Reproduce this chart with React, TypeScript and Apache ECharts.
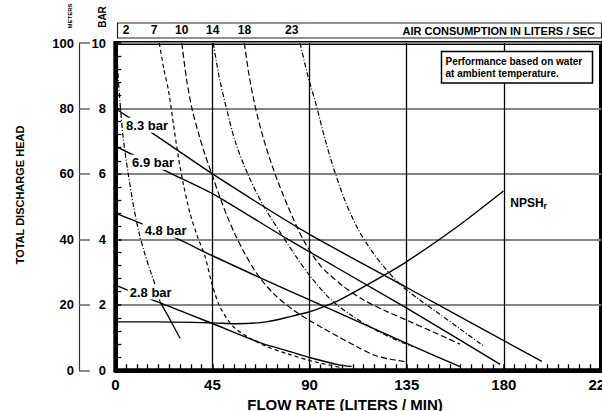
import React, { useEffect, useRef } from "react";
import * as echarts from "echarts";

const FONT = '"Liberation Sans", Arial, Helvetica, sans-serif';

// Axis ranges / ticks
const flowTicks = [0, 45, 90, 135, 180, 225];
const headTicks = [0, 20, 40, 60, 80, 100];

// Pressure (solid) curves: flow in L/min, head in meters
const p83Flow = [0, 16, 45, 90, 135, 197.6];
const p83Head = [80, 73, 60, 41.5, 25.3, 2.7];
const p69Flow = [0, 20.8, 45, 80, 135, 178.3];
const p69Head = [68.5, 61.7, 54, 40, 19, 1.8];
const p48Flow = [0, 25.5, 45, 68, 90, 104, 135, 159.7];
const p48Head = [48, 41.2, 35, 28, 21.5, 17.4, 8.2, 1.1];
const p28Flow = [0, 16, 45, 68, 81, 90, 104, 109.5];
const p28Head = [26, 21.8, 14.3, 8.2, 5.7, 3.9, 1.6, 1.2];
const pressureLabels = ["8.3 bar", "6.9 bar", "4.8 bar", "2.8 bar"];
const pressureLabelFlow = [14.7, 17.5, 23.3, 16.4];
const pressureLabelHead = [74.9, 63.6, 42.8, 23.9];

// NPSHr curve
const npshFlow = [0, 20, 45, 56, 70, 81, 90, 96.4, 104, 123.4, 135, 158.2, 179.8];
const npshHead = [14.8, 14.8, 14.5, 14.2, 14.8, 16.4, 17.9, 19.4, 21.5, 28.6, 33.2, 43.8, 54.8];

// Air consumption (dashed) curves, liters / sec
const c2Flow = [0.5, 1.5, 3.5, 6, 8.5, 11, 13.5, 16.1, 19, 20.7];
const c2Head = [100, 88, 72, 60, 50, 42, 36, 30.6, 25, 21];
const c2TailFlow = [20.7, 24.6, 30];
const c2TailHead = [21, 16.4, 9.8];
const c7Flow = [20.4, 22.5, 24.6, 26.9, 29.2, 31.5, 34.6, 38, 41.6, 44.7, 48.5, 54.7, 62.4, 70, 80, 90, 104];
const c7Head = [100, 92, 85.6, 75.4, 65.2, 57, 48, 41, 34.7, 26.6, 19.4, 13.3, 9.8, 7.3, 5.0, 3.0, 0.9];
const c10Flow = [30.8, 33, 35.5, 38.5, 41.5, 44.7, 48.5, 52, 55.5, 59.3, 65.5, 73.2, 82.5, 90, 96.4, 104, 112, 120, 128, 135];
const c10Head = [100, 89, 80, 72.5, 66, 60, 52.8, 46.8, 41.5, 36.5, 29.6, 23.5, 18.4, 15.2, 12.8, 10.0, 7.2, 4.6, 3.3, 2.6];
const c14Flow = [45.4, 48, 51.5, 55.5, 61, 68, 77, 84, 90, 100, 110, 120, 130, 138];
const c14Head = [100, 90, 80, 70, 60.5, 51, 41.5, 34.5, 29, 21.5, 16.5, 12.5, 9.3, 7.2];
const c18Flow = [59.8, 62, 65, 69, 74, 80, 87, 95, 105, 115, 125, 135, 147, 159.7];
const c18Head = [100, 90, 80, 70, 60, 50, 40, 32, 26, 21.5, 18.2, 15.3, 11.8, 8.0];
const c23Flow = [85.6, 89, 93.3, 97, 101, 106, 111.9, 118, 124.2, 132, 140, 150, 160, 170.3];
const c23Head = [100, 90.5, 80.5, 71, 62, 52.5, 43.8, 37.2, 31.8, 26.2, 22, 17.3, 12.5, 7.6];
const airLabels = ["2", "7", "10", "14", "18", "23"];
const airLabelFlow = [5, 18, 30.8, 45.1, 59.8, 81.7];

const zip = (xs: number[], ys: number[]) => xs.map((x, i) => [x, ys[i]]);

const DASH_A = [4, 3];
const DASH_B = [6, 3];
const DASH_DOT = [5, 2, 1, 2];

function curve(xs: number[], ys: number[], dash: any, width = 1.3, smooth: number = 0.3): any {
  return {
    type: "line",
    data: zip(xs, ys),
    showSymbol: false,
    symbol: "none",
    smooth,
    silent: true,
    lineStyle: { color: "#000", width, type: dash },
    z: 3,
  };
}

function textPoint(x: number, y: number, text: string, size: number, offset: number[] = [0, 0], bg = false): any {
  return {
    coord: [x, y],
    symbol: "circle",
    symbolSize: 1,
    itemStyle: { color: "rgba(0,0,0,0)" },
    label: {
      show: true,
      position: "inside",
      formatter: text,
      offset,
      color: "#000",
      fontSize: size,
      fontWeight: "bold",
      fontFamily: FONT,
      backgroundColor: bg ? "#fff" : "transparent",
      padding: bg ? [1, 2, 1, 2] : 0,
    },
  };
}

function markPoints(data: any[]): any {
  return { silent: true, animation: false, z: 20, data };
}

export default function App() {
  const ref = useRef<HTMLDivElement>(null);

  useEffect(() => {
    if (!ref.current) return;
    const chart = echarts.init(ref.current, undefined, { renderer: "svg" });

    const pressure = [
      [p83Flow, p83Head],
      [p69Flow, p69Head],
      [p48Flow, p48Head],
      [p28Flow, p28Head],
    ].map(([xs, ys], i) => {
      const s = curve(xs, ys, "solid", 1.4, 0.2);
      s.z = 4;
      s.markPoint = markPoints([
        textPoint(pressureLabelFlow[i], pressureLabelHead[i], pressureLabels[i], 13, [0, 0], true),
      ]);
      return s;
    });

    const airDefs: [number[], number[], any][] = [
      [c2Flow, c2Head, DASH_DOT],
      [c7Flow, c7Head, DASH_A],
      [c10Flow, c10Head, DASH_B],
      [c14Flow, c14Head, DASH_DOT],
      [c18Flow, c18Head, DASH_B],
      [c23Flow, c23Head, DASH_DOT],
    ];
    const air = airDefs.map(([xs, ys, dash], i) => {
      const s = curve(xs, ys, dash, 1.2, 0.3);
      s.markPoint = markPoints([textPoint(airLabelFlow[i], 100, airLabels[i], 12, [0, -13])]);
      return s;
    });
    const c2Tail = curve(c2TailFlow, c2TailHead, "solid", 1.3, 0.3);

    const npsh = curve(npshFlow, npshHead, "solid", 1.4, 0.3);
    npsh.markPoint = markPoints([
      {
        coord: [191.5, 51.2],
        symbol: "circle",
        symbolSize: 1,
        itemStyle: { color: "rgba(0,0,0,0)" },
        label: {
          show: true,
          position: "inside",
          formatter: "{a|NPSH}{b|r}",
          rich: {
            a: { fontSize: 12, fontWeight: "bold", fontFamily: FONT, color: "#000" },
            b: { fontSize: 9, fontWeight: "bold", fontFamily: FONT, color: "#000", padding: [7, 0, 0, 0] },
          },
        },
      },
    ]);

    const labelStyle = { color: "#000", fontWeight: "bold" as const, fontFamily: FONT };

    chart.setOption({
      animation: false,
      backgroundColor: "#fff",
      grid: {
        left: 115.3,
        right: 1,
        top: 43,
        bottom: 40.7,
        show: true,
        borderColor: "#000",
        borderWidth: 4,
        backgroundColor: "transparent",
        containLabel: false,
        outerBoundsMode: "none",
      },
      xAxis: [
        {
          type: "value",
          min: flowTicks[0],
          max: flowTicks[flowTicks.length - 1],
          interval: flowTicks[1] - flowTicks[0],
          position: "bottom",
          axisLine: { show: true, onZero: false, lineStyle: { color: "#000", width: 4 } },
          axisTick: { show: true, inside: true, length: 6, lineStyle: { color: "#000", width: 1.5 } },
          minorTick: { show: true, splitNumber: 9, length: 6, lineStyle: { color: "#000", width: 1.3 } },
          axisLabel: { ...labelStyle, fontSize: 15, margin: 7, showMinLabel: true, showMaxLabel: true, hideOverlap: false },
          splitLine: { show: true, lineStyle: { color: "#000", width: 1.3 } },
        },
      ],
      yAxis: [
        {
          type: "value",
          min: headTicks[0],
          max: headTicks[headTicks.length - 1],
          interval: headTicks[1] - headTicks[0],
          position: "left",
          axisLine: { show: true, onZero: false, lineStyle: { color: "#000", width: 4 } },
          axisTick: { show: true, inside: true, length: 6, lineStyle: { color: "#000", width: 1.5 } },
          minorTick: { show: true, splitNumber: 5, length: 6, lineStyle: { color: "#000", width: 1.3 } },
          axisLabel: { show: false },
          splitLine: { show: true, lineStyle: { color: "#858585", width: 2 } },
        },
        {
          type: "value",
          min: headTicks[0],
          max: headTicks[headTicks.length - 1],
          interval: headTicks[1] - headTicks[0],
          position: "left",
          offset: 36.3,
          axisLine: { show: true, onZero: false, lineStyle: { color: "#333", width: 1.2 } },
          axisTick: { show: true, inside: true, length: 11, lineStyle: { color: "#666", width: 1.5 } },
          axisLabel: { ...labelStyle, fontSize: 13, margin: 5 },
          splitLine: { show: false },
        },
        {
          type: "value",
          min: headTicks[0],
          max: headTicks[headTicks.length - 1],
          interval: headTicks[1] - headTicks[0],
          position: "left",
          offset: 36.3,
          axisLine: { show: false },
          axisTick: { show: false },
          axisLabel: {
            ...labelStyle,
            fontSize: 13,
            inside: true,
            align: "right",
            margin: 27,
            formatter: (v: number) => String(v / 10),
          },
          splitLine: { show: false },
        },
      ],
      series: [...air, c2Tail, ...pressure, npsh],
      graphic: [
        {
          type: "rect",
          shape: { x: 117.5, y: 23, width: 484, height: 15 },
          style: { fill: "#fff", stroke: "#222", lineWidth: 1.2 },
          z: 1,
          silent: true,
        },
        {
          type: "text",
          x: 595,
          y: 30.5,
          style: {
            text: "AIR CONSUMPTION IN LITERS / SEC",
            fill: "#000",
            font: `bold 11px ${FONT}`,
            textAlign: "right",
            textVerticalAlign: "middle",
          },
          z: 2,
          silent: true,
        },
        {
          type: "rect",
          shape: { x: 441.5, y: 51.5, width: 151, height: 31.5 },
          style: { fill: "#fff", stroke: "#000", lineWidth: 1.5 },
          z: 50,
          silent: true,
        },
        {
          type: "text",
          x: 445.5,
          y: 61.5,
          style: {
            text: "Performance based on water",
            fill: "#000",
            font: `bold 10px ${FONT}`,
            textAlign: "left",
            textVerticalAlign: "middle",
          },
          z: 51,
          silent: true,
        },
        {
          type: "text",
          x: 445.5,
          y: 73.5,
          style: {
            text: "at ambient temperature.",
            fill: "#000",
            font: `bold 10px ${FONT}`,
            textAlign: "left",
            textVerticalAlign: "middle",
          },
          z: 51,
          silent: true,
        },
        {
          type: "text",
          x: 20,
          y: 195,
          rotation: Math.PI / 2,
          style: {
            text: "TOTAL DISCHARGE HEAD",
            fill: "#000",
            font: `bold 11px ${FONT}`,
            textAlign: "center",
            textVerticalAlign: "middle",
          },
          silent: true,
        },
        {
          type: "text",
          x: 69.5,
          y: 16,
          rotation: Math.PI / 2,
          style: {
            text: "METERS",
            fill: "#000",
            font: `bold 6px ${FONT}`,
            textAlign: "center",
            textVerticalAlign: "middle",
          },
          silent: true,
        },
        {
          type: "text",
          x: 102,
          y: 17,
          rotation: Math.PI / 2,
          style: {
            text: "BAR",
            fill: "#000",
            font: `bold 10px ${FONT}`,
            textAlign: "center",
            textVerticalAlign: "middle",
          },
          silent: true,
        },
        {
          type: "text",
          x: 345,
          y: 404,
          style: {
            text: "FLOW RATE (LITERS / MIN)",
            fill: "#000",
            font: `bold 15px ${FONT}`,
            textAlign: "center",
            textVerticalAlign: "middle",
          },
          silent: true,
        },
      ],
    });

    return () => chart.dispose();
  }, []);

  return (
    <div
      ref={ref}
      style={{ position: "fixed", left: 0, top: 0, width: 602, height: 411, background: "#fff" }}
    />
  );
}
